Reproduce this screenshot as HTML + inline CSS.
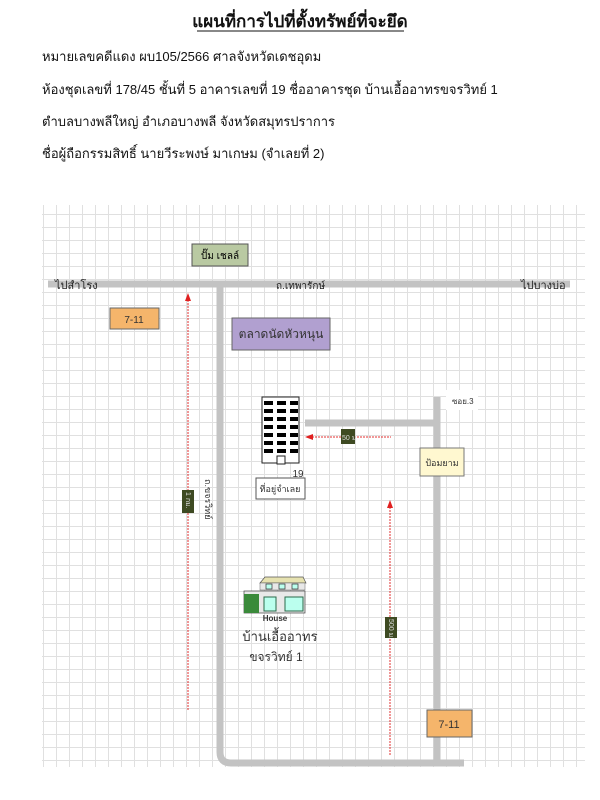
<!DOCTYPE html>
<html><head><meta charset="utf-8"><style>
body{margin:0;width:600px;height:800px;background:#fff;overflow:hidden;font-family:"Liberation Sans","Noto Sans CJK SC",sans-serif;}
</style></head><body>
<svg width="600" height="800" xmlns="http://www.w3.org/2000/svg" style="position:absolute;left:0;top:0;font-family:'Liberation Sans','Noto Sans CJK SC',sans-serif">
<defs>
<pattern id="g" x="43" y="201" width="13" height="13" patternUnits="userSpaceOnUse">
<path d="M0.5 0V13M0 0.5H13" stroke="#e0e0e0" stroke-width="1" fill="none"/>
</pattern>
</defs>
<text x="300" y="27" font-size="17" font-weight="bold" text-anchor="middle" fill="#111">แผนที่การไปที่ตั้งทรัพย์ที่จะยึด</text>
<line x1="197" y1="31" x2="404" y2="31" stroke="#111" stroke-width="1"/>
<g font-size="13" fill="#111">
<text x="42" y="61">หมายเลขคดีแดง ผบ105/2566  ศาลจังหวัดเดชอุดม</text>
<text x="42" y="94">ห้องชุดเลขที่ 178/45 ชั้นที่ 5 อาคารเลขที่ 19 ชื่ออาคารชุด บ้านเอื้ออาทรขจรวิทย์ 1</text>
<text x="42" y="126">ตำบลบางพลีใหญ่ อำเภอบางพลี จังหวัดสมุทรปราการ</text>
<text x="42" y="158">ชื่อผู้ถือกรรมสิทธิ์  นายวีระพงษ์    มาเกษม (จำเลยที่ 2)</text>
</g>
<rect x="42" y="205" width="543" height="562" fill="url(#g)"/>
<g stroke="#c3c3c3" stroke-width="7" fill="none">
<line x1="48" y1="284" x2="570" y2="284"/>
<path d="M220 284V752Q220 763 231 763H464"/>
<line x1="437" y1="397" x2="437" y2="763"/>
<line x1="305" y1="423" x2="437" y2="423"/>
</g>
<g font-size="11" fill="#222">
<text x="55" y="289">ไปสำโรง</text>
<text x="276" y="289" font-size="10">ถ.เทพารักษ์</text>
<text x="521" y="289">ไปบางบ่อ</text>
</g>
<rect x="192" y="244" width="56" height="22" fill="#b9c9a2" stroke="#555"/>
<text x="220" y="259" font-size="10" text-anchor="middle">ปั๊ม เชลล์</text>
<rect x="110" y="308" width="49" height="21" fill="#f5b56b" stroke="#666"/>
<text x="134" y="323" font-size="10" text-anchor="middle" fill="#333">7-11</text>
<rect x="232" y="318" width="98" height="32" fill="#b1a0d0" stroke="#666"/>
<text x="281" y="338" font-size="12" text-anchor="middle" fill="#333">ตลาดนัดหัวหนุน</text>
<rect x="262" y="397" width="37" height="66" fill="#fff" stroke="#222"/>
<g fill="#000">
<rect x="264" y="401" width="9" height="4"/><rect x="277" y="401" width="9" height="4"/><rect x="290" y="401" width="8" height="4"/>
<rect x="264" y="409" width="9" height="4"/><rect x="277" y="409" width="9" height="4"/><rect x="290" y="409" width="8" height="4"/>
<rect x="264" y="417" width="9" height="4"/><rect x="277" y="417" width="9" height="4"/><rect x="290" y="417" width="8" height="4"/>
<rect x="264" y="425" width="9" height="4"/><rect x="277" y="425" width="9" height="4"/><rect x="290" y="425" width="8" height="4"/>
<rect x="264" y="433" width="9" height="4"/><rect x="277" y="433" width="9" height="4"/><rect x="290" y="433" width="8" height="4"/>
<rect x="264" y="441" width="9" height="4"/><rect x="277" y="441" width="9" height="4"/><rect x="290" y="441" width="8" height="4"/>
<rect x="264" y="449" width="9" height="4"/><rect x="277" y="449" width="9" height="4"/><rect x="290" y="449" width="8" height="4"/>
</g>
<rect x="277" y="456" width="8" height="8" fill="#fff" stroke="#222"/>
<text x="298" y="477" font-size="10" text-anchor="middle" fill="#333">19</text>
<rect x="256" y="478" width="49" height="21" fill="#fff" stroke="#555"/>
<text x="280" y="492" font-size="9" text-anchor="middle" fill="#333">ที่อยู่จำเลย</text>
<rect x="446" y="390" width="32" height="20" fill="#fff"/>
<text x="452" y="404" font-size="8" fill="#333">ซอย.3</text>
<rect x="420" y="448" width="44" height="28" fill="#fff8d0" stroke="#777"/>
<text x="442" y="466" font-size="9" text-anchor="middle" fill="#333">ป้อมยาม</text>
<rect x="427" y="710" width="45" height="27" fill="#f5b56b" stroke="#666"/>
<text x="449" y="728" font-size="11" text-anchor="middle" fill="#333">7-11</text>
<g stroke="#e03030" stroke-width="1" stroke-dasharray="2,1">
<line x1="188" y1="300" x2="188" y2="710"/>
<line x1="390" y1="507" x2="390" y2="755"/>
<line x1="312" y1="437" x2="391" y2="437"/>
</g>
<g fill="#e02020">
<polygon points="188,293 185,301 191,301"/>
<polygon points="390,500 387,508 393,508"/>
<polygon points="305,437 313,434 313,440"/>
</g>
<rect x="182" y="490" width="12" height="23" fill="#3e4a22"/>
<text transform="translate(186,492) rotate(90)" font-size="7" fill="#ddd">1 กม.</text>
<rect x="385" y="617" width="12" height="21" fill="#3e4a22"/>
<text transform="translate(389,619) rotate(90)" font-size="7" fill="#ddd">500 ม.</text>
<rect x="341" y="429" width="14" height="15" fill="#3e4a22"/>
<text x="342" y="440" font-size="7" fill="#ddd">50 ม</text>
<text transform="translate(205,479) rotate(90)" font-size="9" fill="#333">ถ.ขจรวิทย์</text>
<g>
<polygon points="260,583 265,577 303,577 306,583" fill="#e6e2b0" stroke="#555" stroke-width="0.7"/>
<rect x="260" y="583" width="45" height="7" fill="#e8e8e8" stroke="#666" stroke-width="0.5"/>
<rect x="266" y="584" width="6" height="5" fill="#bfe" stroke="#333" stroke-width="0.7"/>
<rect x="279" y="584" width="6" height="5" fill="#bfe" stroke="#333" stroke-width="0.7"/>
<rect x="292" y="584" width="6" height="5" fill="#bfe" stroke="#333" stroke-width="0.7"/>
<rect x="244" y="591" width="61" height="22" fill="#e8e8e8" stroke="#444" stroke-width="0.7"/>
<rect x="244" y="594" width="15" height="19" fill="#3a8a3a"/>
<rect x="264" y="597" width="12" height="14" fill="#bfe" stroke="#2a6a4a"/>
<rect x="285" y="597" width="18" height="14" fill="#bfe" stroke="#2a6a4a"/>
</g>
<text x="275" y="621" font-size="8" font-weight="bold" text-anchor="middle" fill="#333">House</text>
<text x="280" y="641" font-size="13" text-anchor="middle" fill="#333">บ้านเอื้ออาทร</text>
<text x="276" y="661" font-size="12" text-anchor="middle" fill="#333">ขจรวิทย์ 1</text>
</svg>
</body></html>
